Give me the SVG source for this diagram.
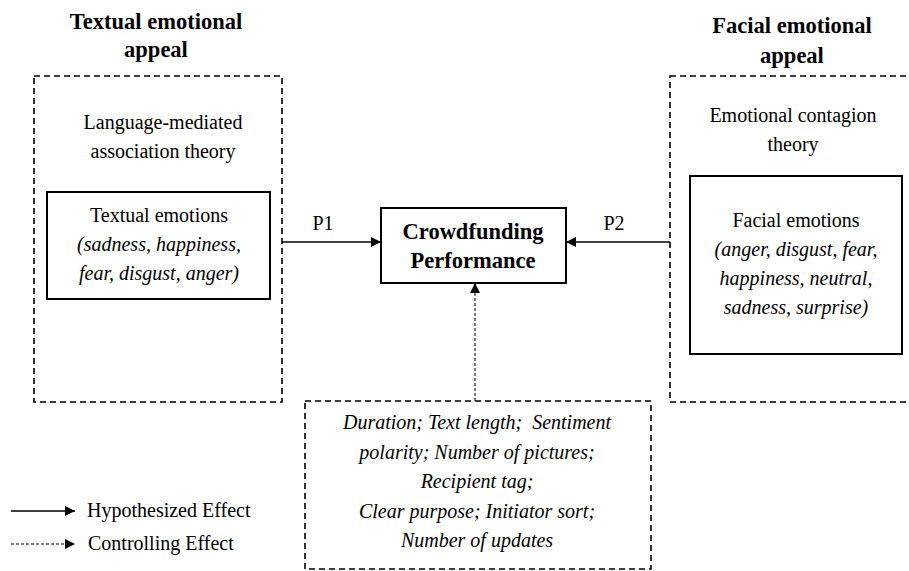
<svg xmlns="http://www.w3.org/2000/svg" width="909" height="571" viewBox="0 0 909 571">
<defs>
<style>
text{font-family:"Liberation Serif","Times New Roman",serif;fill:#000;text-anchor:middle}
.t{font-size:20px}
.i{font-size:20px;font-style:italic}
.b{font-size:22.5px;font-weight:bold}
.dash{fill:none;stroke:#000;stroke-width:1.6;stroke-dasharray:6,4}
.box{fill:none;stroke:#000;stroke-width:2}
.solid{stroke:#000;stroke-width:1.3;fill:none}
.dot{stroke:#000;stroke-width:1;fill:none;stroke-dasharray:3,2}
</style>
<marker id="ah" viewBox="0 0 10 10" refX="10" refY="5" markerWidth="10" markerHeight="10" markerUnits="userSpaceOnUse" orient="auto">
<path d="M0,0 L10,5 L0,10 Z" fill="#000"/>
</marker>
</defs>
<rect width="909" height="571" fill="#fff"/>

<g id="textual-appeal">
<text class="b" x="156" y="29">Textual emotional</text>
<text class="b" x="156" y="57">appeal</text>
<rect class="dash" x="34" y="76" width="248" height="326"/>
<text class="t" x="163" y="129">Language-mediated</text>
<text class="t" x="163" y="158">association theory</text>
</g>
<g id="textual-emotions">
<rect class="box" x="47" y="192" width="223" height="107"/>
<text class="t" x="159" y="222">Textual emotions</text>
<text class="i" x="159" y="251">(sadness, happiness,</text>
<text class="i" x="159" y="280">fear, disgust, anger)</text>
</g>

<g id="facial-appeal">
<text class="b" x="792" y="33">Facial emotional</text>
<text class="b" x="792" y="63">appeal</text>
<rect class="dash" x="670" y="76" width="250" height="326"/>
<text class="t" x="793" y="122">Emotional contagion</text>
<text class="t" x="793" y="151">theory</text>
</g>
<g id="facial-emotions">
<rect class="box" x="690" y="176" width="212" height="178"/>
<text class="t" x="796" y="227">Facial emotions</text>
<text class="i" x="796" y="256">(anger, disgust, fear,</text>
<text class="i" x="796" y="285">happiness, neutral,</text>
<text class="i" x="796" y="314">sadness, surprise)</text>
</g>

<g id="performance">
<rect class="box" x="381" y="208" width="185" height="75"/>
<text class="b" x="473" y="239">Crowdfunding</text>
<text class="b" x="473" y="268">Performance</text>
</g>

<g id="controls">
<rect class="dash" x="305" y="401" width="346" height="168"/>
<text class="i" x="477" y="429" xml:space="preserve">Duration; Text length;  Sentiment</text>
<text class="i" x="477" y="459">polarity; Number of pictures;</text>
<text class="i" x="477" y="488">Recipient tag;</text>
<text class="i" x="477" y="518">Clear purpose; Initiator sort;</text>
<text class="i" x="477" y="547">Number of updates</text>
</g>

<g id="connectors">
<line class="solid" x1="282" y1="242" x2="381" y2="242" marker-end="url(#ah)"/>
<text class="t" x="323" y="230">P1</text>
<line class="solid" x1="670" y1="242" x2="566" y2="242" marker-end="url(#ah)"/>
<text class="t" x="614" y="230">P2</text>
<line class="dot" x1="475" y1="401" x2="475" y2="283" marker-end="url(#ah)"/>
</g>

<g id="legend">
<line class="solid" x1="11" y1="511" x2="75" y2="511" marker-end="url(#ah)"/>
<text class="t" x="87" y="517" style="text-anchor:start">Hypothesized Effect</text>
<line class="dot" x1="11" y1="544" x2="75" y2="544" marker-end="url(#ah)"/>
<text class="t" x="88" y="550" style="text-anchor:start">Controlling Effect</text>
</g>
</svg>
